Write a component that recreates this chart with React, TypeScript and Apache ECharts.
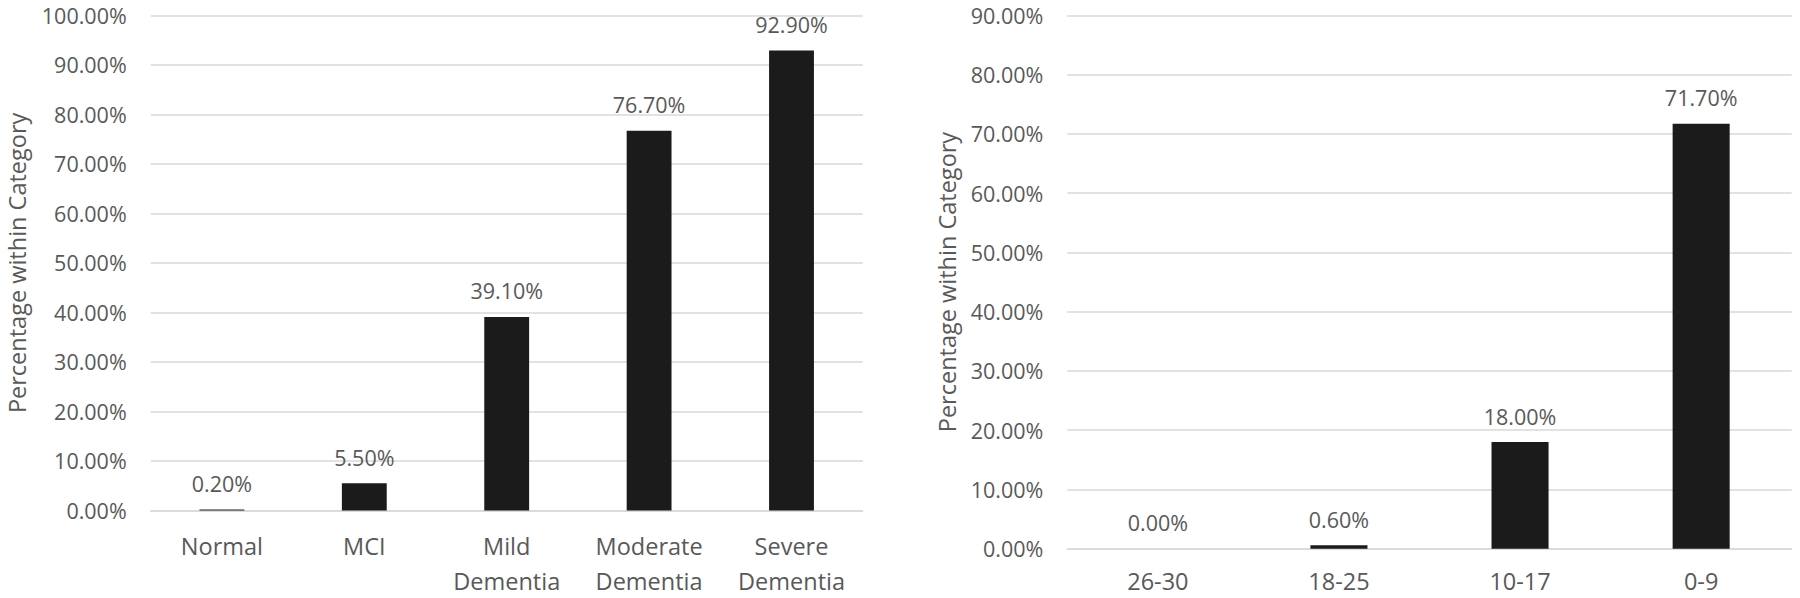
import React, { useEffect, useRef } from "react";
import * as echarts from "echarts";

const leftCategories = ["Normal", "MCI", "Mild\nDementia", "Moderate\nDementia", "Severe\nDementia"];
const leftValues = [0.2, 5.5, 39.1, 76.7, 92.9];
const rightCategories = ["26-30", "18-25", "10-17", "0-9"];
const rightValues = [0.0, 0.6, 18.0, 71.7];
const yAxisTitle = "Percentage within Category";

const FONT = "'Open Sans', 'Noto Sans', sans-serif";
const TEXT = "#595959";
const GRID = "#d9d9d9";
const BAR = "#1b1b1b";

const pct = (v: number) => v.toFixed(2) + "%";

export default function App() {
  const ref = useRef<HTMLDivElement>(null);
  useEffect(() => {
    if (!ref.current) return;
    const chart = echarts.init(ref.current, undefined, { renderer: "svg" });
    const yAxisCommon = (gridIndex: number, max: number, nameGap: number) => ({
      type: "value" as const,
      gridIndex,
      min: 0,
      max,
      interval: 10,
      name: yAxisTitle,
      nameLocation: "middle" as const,
      nameGap,
      nameTextStyle: { color: TEXT, fontSize: 23.5, fontFamily: FONT },
      axisLine: { show: false },
      axisTick: { show: false },
      axisLabel: {
        color: TEXT,
        fontSize: 21.5,
        fontFamily: FONT,
        margin: 24,
        formatter: (v: number) => pct(v),
      },
      splitLine: { lineStyle: { color: GRID, width: 1.5 } },
    });
    const xAxisCommon = (gridIndex: number, data: string[], margin: number) => ({
      type: "category" as const,
      gridIndex,
      data,
      axisLine: { show: true, lineStyle: { color: GRID, width: 1.5 } },
      axisTick: { show: false },
      axisLabel: {
        color: TEXT,
        fontSize: 23.5,
        fontFamily: FONT,
        lineHeight: 35,
        margin,
        interval: 0,
      },
    });
    const barSeries = (idx: number, data: number[]) => ({
      type: "bar" as const,
      xAxisIndex: idx,
      yAxisIndex: idx,
      data,
      barWidth: "31.5%",
      itemStyle: { color: BAR, borderWidth: 0 },
      label: {
        show: true,
        position: "top" as const,
        distance: 15,
        color: TEXT,
        fontSize: 21.5,
        fontFamily: FONT,
        formatter: (p: any) => pct(p.value),
      },
    });
    chart.setOption({
      animation: false,
      backgroundColor: "#ffffff",
      textStyle: { fontFamily: FONT },
      grid: [
        { left: 150.7, top: 15.3, width: 712, height: 496.4, containLabel: false },
        { left: 1067.3, top: 15.3, width: 724.4, height: 535.7, containLabel: false },
      ],
      xAxis: [xAxisCommon(0, leftCategories, 17.5), xAxisCommon(1, rightCategories, 14.2)],
      yAxis: [yAxisCommon(0, 100, 122), yAxisCommon(1, 90, 108)],
      series: [barSeries(0, leftValues), barSeries(1, rightValues)],
    });
    return () => chart.dispose();
  }, []);
  return (
    <div
      ref={ref}
      style={{ position: "absolute", left: 0, top: 0, width: 1800, height: 598, background: "#fff" }}
    />
  );
}
